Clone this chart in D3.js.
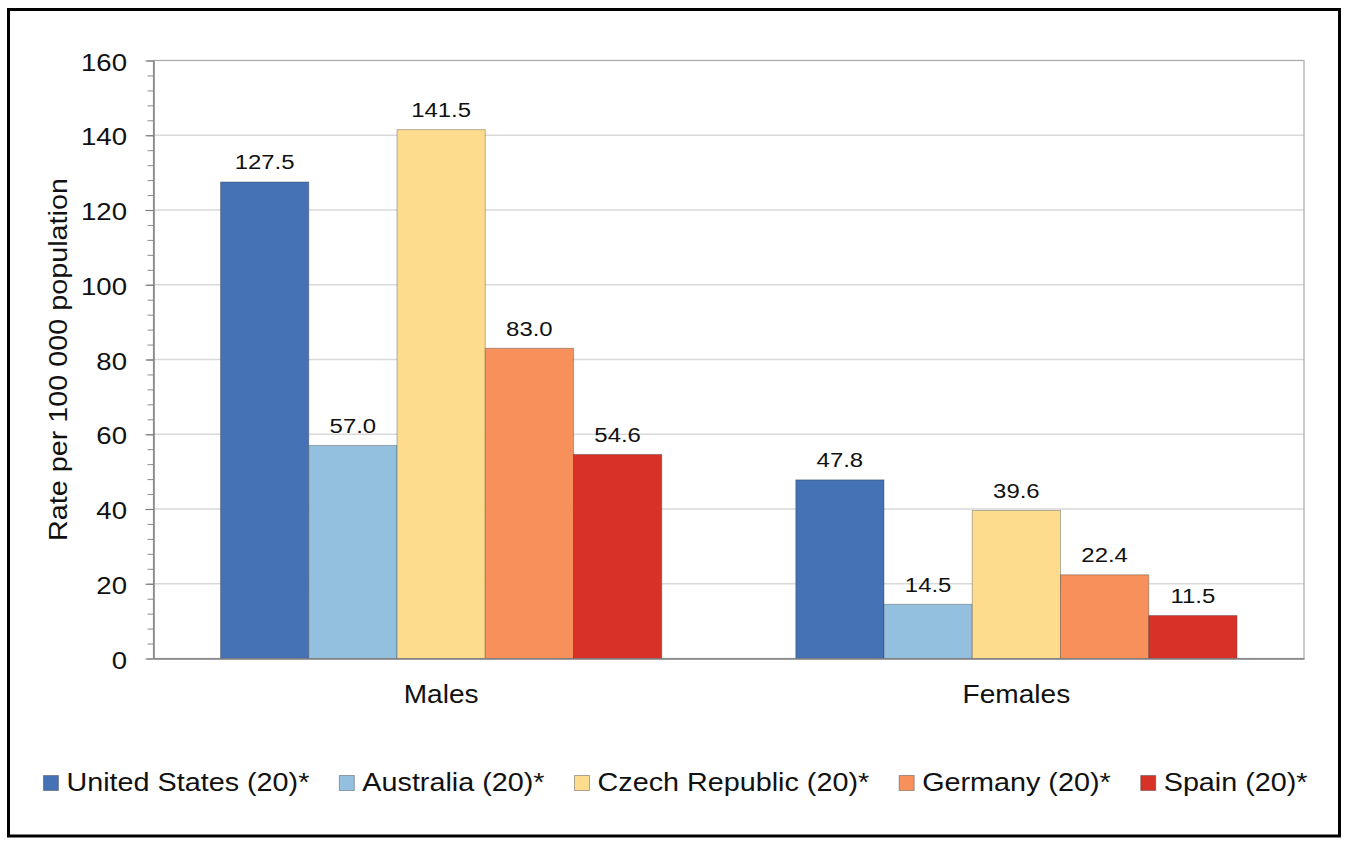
<!DOCTYPE html>
<html>
<head>
<meta charset="utf-8">
<script src="https://cdn.jsdelivr.net/npm/d3@7"></script>
<style>
  html, body { margin: 0; padding: 0; background: #fff; }
  svg { display: block; }
  text { font-family: "Liberation Sans", Arial, Helvetica, sans-serif; fill: #111; }
</style>
</head>
<body>
<svg id="chart" width="1350" height="846"></svg>
<script>
// ---- data ----
const groups = ["Males", "Females"];
const countries = ["United States (20)*", "Australia (20)*", "Czech Republic (20)*", "Germany (20)*", "Spain (20)*"];
const males   = [127.5, 57.0, 141.5, 83.0, 54.6];
const females = [47.8, 14.5, 39.6, 22.4, 11.5];
const colors  = ["#4472b4", "#93c0de", "#fedc8d", "#f7905a", "#d73128"];
const yTicks  = [0, 20, 40, 60, 80, 100, 120, 140, 160];
const yLabel  = "Rate per 100 000 population";

const values = { Males: males, Females: females };

const svg = d3.select("#chart");
const W = 1350, H = 846;
const SX = 1.15; // horizontal glyph stretch of the source font

// outer frame
svg.append("rect")
  .attr("x", 8.5).attr("y", 9.5)
  .attr("width", 1339.5 - 8.5).attr("height", 836 - 9.5)
  .attr("fill", "#fff").attr("stroke", "#000").attr("stroke-width", 3);

const plot = { left: 153.5, right: 1304, top: 60.5, bottom: 658.5 };

const y = d3.scaleLinear().domain([0, 160]).range([plot.bottom, plot.top]);
const x0 = d3.scaleBand().domain(groups)
  .range([plot.left, plot.right]).paddingInner(0.233).paddingOuter(0.1165);
const x1 = d3.scaleBand().domain(countries).range([0, x0.bandwidth()]).padding(0);
const color = d3.scaleOrdinal().domain(countries).range(colors);

// gridlines
svg.append("g").selectAll("line").data(yTicks.filter(d => d > 0 && d < 160)).join("line")
  .attr("x1", plot.left).attr("x2", plot.right)
  .attr("y1", d => y(d)).attr("y2", d => y(d))
  .attr("stroke", "#d9d9d9").attr("stroke-width", 1.5);

// plot border
svg.append("rect")
  .attr("x", plot.left).attr("y", plot.top)
  .attr("width", plot.right - plot.left).attr("height", plot.bottom - plot.top)
  .attr("fill", "none").attr("stroke", "#a8a8a8").attr("stroke-width", 1.2);

// minor ticks
const minorTicks = d3.range(0, 161, 4);
const minorAxis = svg.append("g")
  .attr("transform", `translate(${plot.left},0)`)
  .call(d3.axisLeft(y).tickValues(minorTicks).tickSize(6).tickFormat(""));
minorAxis.select(".domain").remove();
minorAxis.selectAll("line").attr("stroke", "#8c8c8c").attr("stroke-width", 1);

// major axis
const yAxis = svg.append("g")
  .attr("transform", `translate(${plot.left},0)`)
  .call(d3.axisLeft(y).tickValues(yTicks).tickSize(8).tickSizeOuter(0));
yAxis.select(".domain").attr("stroke", "#808080").attr("stroke-width", 1.5);
yAxis.selectAll(".tick line").attr("stroke", "#808080").attr("stroke-width", 1.2);
yAxis.selectAll(".tick text")
  .attr("font-size", 24)
  .attr("font-family", "Liberation Sans, Arial, sans-serif")
  .attr("fill", "#111")
  .attr("x", -26.5 / SX)
  .attr("dy", "0.4em")
  .attr("transform", `scale(${SX},1)`);

// bars
const gGroups = svg.append("g").selectAll("g").data(groups).join("g")
  .attr("transform", d => `translate(${x0(d)},0)`);

gGroups.selectAll("rect")
  .data(g => countries.map((c, i) => ({ c, v: values[g][i] })))
  .join("rect")
  .attr("x", d => x1(d.c))
  .attr("y", d => y(d.v))
  .attr("width", x1.bandwidth())
  .attr("height", d => y(0) - y(d.v))
  .attr("fill", d => color(d.c))
  .attr("stroke", "rgba(50,50,50,0.35)")
  .attr("stroke-width", 1);

// value labels
gGroups.selectAll("text.val")
  .data(g => countries.map((c, i) => ({ c, v: values[g][i] })))
  .join("text")
  .attr("class", "val")
  .attr("text-anchor", "middle")
  .attr("font-size", 21)
  .attr("transform", d => `translate(${x1(d.c) + x1.bandwidth() / 2},${y(d.v) - 12.5}) scale(1.14,1)`)
  .text(d => d.v.toFixed(1));

// x axis (category labels)
const xAxis = svg.append("g")
  .attr("transform", `translate(0,${plot.bottom})`)
  .call(d3.axisBottom(x0).tickSize(0).tickPadding(0));
xAxis.select(".domain").attr("stroke", "#808080").attr("stroke-width", 1.5);
xAxis.selectAll(".tick text")
  .attr("font-size", 26)
  .attr("font-family", "Liberation Sans, Arial, sans-serif")
  .attr("fill", "#111")
  .attr("y", 0).attr("dy", 0)
  .attr("transform", `translate(0,${703 - plot.bottom}) scale(1.08,1)`);

// y label
svg.append("text")
  .attr("text-anchor", "middle")
  .attr("font-size", 25)
  .attr("transform", `translate(66.5,${(plot.top + plot.bottom) / 2}) rotate(-90) scale(${SX},1)`)
  .text(yLabel);

// legend
const legend = svg.append("g");
const legendFont = 25, sq = 15, gapSqText = 8, gapItems = 30, baseY = 791;
const items = legend.selectAll("g").data(countries).join("g");
items.append("rect")
  .attr("width", sq).attr("height", sq)
  .attr("y", baseY - 15.5)
  .attr("fill", d => color(d))
  .attr("stroke", "rgba(50,50,50,0.4)").attr("stroke-width", 1);
const texts = items.append("text")
  .attr("font-size", legendFont)
  .text(d => d);
const widths = [];
texts.each(function () { widths.push(this.getComputedTextLength() * SX); });
const total = d3.sum(widths) + countries.length * (sq + gapSqText) + (countries.length - 1) * gapItems;
let cx = 675.5 - total / 2;
items.each(function (d, i) {
  const g = d3.select(this);
  g.select("rect").attr("x", cx);
  g.select("text").attr("transform", `translate(${cx + sq + gapSqText},${baseY}) scale(${SX},1)`);
  cx += sq + gapSqText + widths[i] + gapItems;
});
</script>
</body>
</html>
